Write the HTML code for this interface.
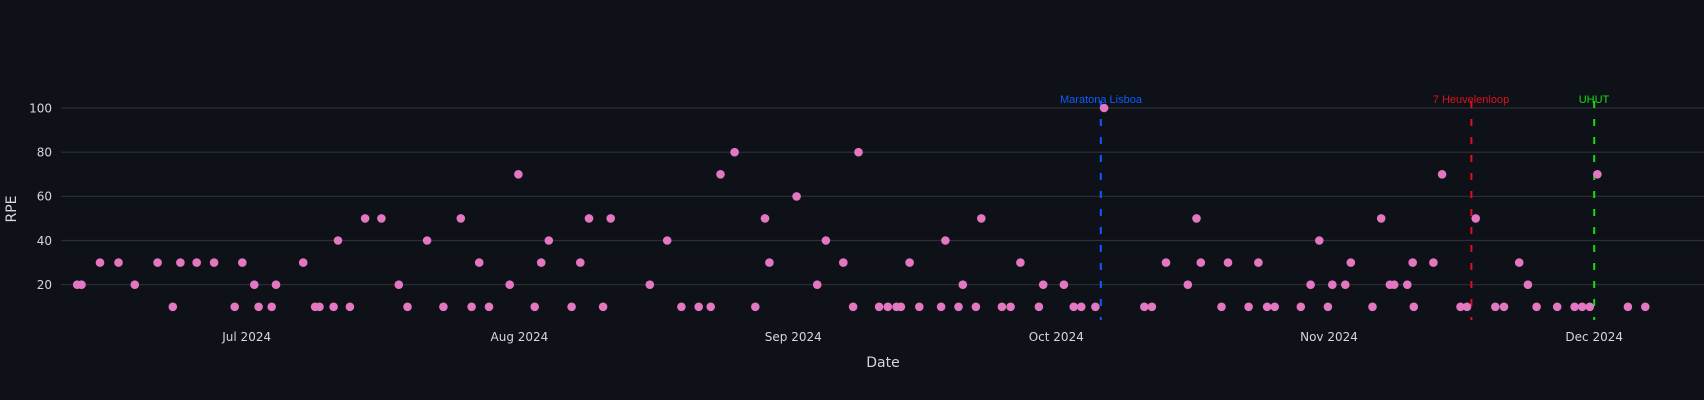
<!DOCTYPE html>
<html><head><meta charset="utf-8"><style>
html,body{margin:0;padding:0;background:#0e1117;}
svg{display:block;}
text{font-family:"DejaVu Sans","Liberation Sans",sans-serif;}
text.ann{font-family:"Liberation Sans",sans-serif;font-size:11px;}
</style></head><body>
<svg id="c" width="1704" height="400" xmlns="http://www.w3.org/2000/svg">
<rect width="1704" height="400" fill="#0e1117"/>
<g stroke="#2b2f38" stroke-width="1.2">
<line x1="61" x2="1704" y1="108" y2="108"/>
<line x1="61" x2="1704" y1="152.2" y2="152.2"/>
<line x1="61" x2="1704" y1="196.3" y2="196.3"/>
<line x1="61" x2="1704" y1="240.5" y2="240.5"/>
<line x1="61" x2="1704" y1="284.7" y2="284.7"/>
</g>
<g fill="#d5d7dc" font-size="12" text-anchor="end">
<text x="52" y="112.5">100</text>
<text x="52" y="156.5">80</text>
<text x="52" y="200.5">60</text>
<text x="52" y="245">40</text>
<text x="52" y="289">20</text>
</g>
<g fill="#d5d7dc" font-size="12" text-anchor="middle">
<text x="246.7" y="341">Jul 2024</text>
<text x="519.4" y="341">Aug 2024</text>
<text x="793.3" y="341">Sep 2024</text>
<text x="1056.3" y="341">Oct 2024</text>
<text x="1329" y="341">Nov 2024</text>
<text x="1594.2" y="341">Dec 2024</text>
<text x="883" y="367" font-size="14">Date</text>
<text transform="translate(16,209) rotate(-90)" font-size="14">RPE</text>
</g>
<g stroke-width="2" stroke-dasharray="7,11">
<line x1="1100.8" x2="1100.8" y1="101" y2="320" stroke="#0d5cff"/>
<line x1="1471.4" x2="1471.4" y1="101" y2="320" stroke="#e0101a"/>
<line x1="1594.2" x2="1594.2" y1="101" y2="320" stroke="#10e010"/>
</g>
<g text-anchor="middle">
<text class="ann" x="1101" y="103" fill="#0d5cff">Maratona Lisboa</text>
<text class="ann" x="1471" y="103" fill="#e0101a">7 Heuvelenloop</text>
<text class="ann" x="1594" y="103" fill="#10e010">UHUT</text>
</g>
<g id="pts" fill="#e377c2"></g>
</svg>
<script>
var d=[[20,71],[20,75],[30,92],[30,109],[20,124],[30,145],[10,159],[30,166],[30,181],[30,197],[10,216],[30,223],[20,234],[10,238],[10,250],[20,254],[30,279],[10,290],[10,294],[10,307],[40,311],[10,322],[50,336],[50,351],[20,367],[10,375],[40,393],[10,408],[50,424],[10,434],[30,441],[10,450],[20,469],[70,477],[10,492],[30,498],[40,505],[10,526],[30,534],[50,542],[10,555],[50,562],[20,598],[40,614],[10,627],[10,643],[10,654],[70,663],[80,676],[10,695],[50,704],[30,708],[60,733],[20,752],[40,760],[30,776],[10,785],[80,790],[10,809],[10,817],[10,825],[10,829],[30,837],[10,846],[10,866],[40,870],[10,882],[20,886],[10,898],[50,903],[10,922],[10,930],[30,939],[10,956],[20,960],[20,979],[10,988],[10,995],[10,1008],[100,1016],[10,1053],[10,1060],[30,1073],[20,1093],[50,1101],[30,1105],[10,1124],[30,1130],[10,1149],[30,1158],[10,1166],[10,1173],[10,1197],[20,1206],[40,1214],[10,1222],[20,1226],[20,1238],[30,1243],[10,1263],[50,1271],[20,1279],[20,1283],[20,1295],[30,1300],[10,1301],[30,1319],[70,1327],[10,1344],[10,1350],[50,1358],[10,1376],[10,1384],[30,1398],[20,1406],[10,1414],[10,1433],[10,1449],[10,1456],[10,1463],[70,1470],[10,1498],[10,1514]];
var g=document.getElementById('pts'),s='';
d.forEach(function(p){var x=p[1]*1.0867,y=284.7-(p[0]-20)*2.2085;s+='<circle cx="'+x.toFixed(1)+'" cy="'+y.toFixed(1)+'" r="4.3"/>';});
g.innerHTML=s;
</script>
</body></html>
